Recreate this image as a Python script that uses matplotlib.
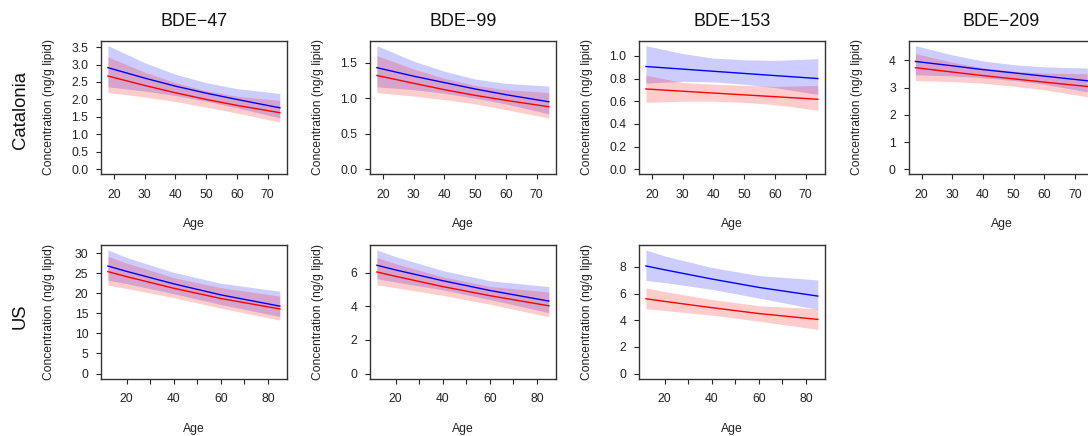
import matplotlib
matplotlib.use("Agg")
import matplotlib.pyplot as plt

plt.rcParams['font.family'] = ['Liberation Sans', 'DejaVu Sans']

# --- data (fitted curve + 95% band, two groups) ---
congeners = ['BDE\u221247', 'BDE\u221299', 'BDE\u2212153', 'BDE\u2212209']
regions = ['Catalonia', 'US']

ages_cat = [18, 30, 40, 50, 60, 74]
ages_us = [12, 20, 40, 60, 85]

# Catalonia: one list per congener
cat_blue = [[2.91, 2.61, 2.38, 2.18, 2.00, 1.76],
            [1.43, 1.31, 1.22, 1.13, 1.05, 0.95],
            [0.906, 0.883, 0.864, 0.845, 0.826, 0.80],
            [3.96, 3.80, 3.66, 3.54, 3.42, 3.25]]
cat_blue_lo = [[2.36, 2.24, 2.11, 1.95, 1.76, 1.47],
               [1.16, 1.12, 1.07, 1.00, 0.92, 0.78],
               [0.76, 0.775, 0.77, 0.75, 0.72, 0.66],
               [3.47, 3.43, 3.36, 3.26, 3.12, 2.84]]
cat_blue_hi = [[3.54, 3.05, 2.72, 2.48, 2.31, 2.17],
               [1.74, 1.52, 1.38, 1.27, 1.21, 1.17],
               [1.09, 1.02, 0.98, 0.965, 0.96, 0.975],
               [4.54, 4.20, 3.98, 3.84, 3.76, 3.72]]
cat_red = [[2.67, 2.40, 2.19, 2.00, 1.83, 1.62],
           [1.32, 1.21, 1.12, 1.04, 0.97, 0.88],
           [0.708, 0.688, 0.672, 0.656, 0.64, 0.617],
           [3.73, 3.57, 3.44, 3.32, 3.20, 3.04]]
cat_red_lo = [[2.20, 2.07, 1.94, 1.78, 1.61, 1.35],
              [1.08, 1.03, 0.98, 0.92, 0.84, 0.72],
              [0.59, 0.60, 0.60, 0.59, 0.57, 0.52],
              [3.26, 3.22, 3.16, 3.05, 2.92, 2.66]]
cat_red_hi = [[3.22, 2.78, 2.48, 2.25, 2.09, 1.97],
              [1.60, 1.41, 1.28, 1.18, 1.12, 1.08],
              [0.83, 0.765, 0.75, 0.74, 0.73, 0.74],
              [4.25, 3.93, 3.73, 3.60, 3.53, 3.51]]

# US: no BDE-209 panel
us_blue = [[26.8, 25.45, 22.35, 19.6, 16.8],
           [6.44, 6.16, 5.52, 4.94, 4.31],
           [8.07, 7.78, 7.09, 6.46, 5.81]]
us_blue_lo = [[23.25, 22.4, 19.9, 17.2, 14.2],
              [5.64, 5.44, 4.98, 4.40, 3.62],
              [6.99, 6.82, 6.32, 5.66, 4.81]]
us_blue_hi = [[30.8, 28.9, 25.2, 22.5, 20.5],
              [7.35, 6.95, 6.12, 5.52, 5.17],
              [9.27, 8.82, 7.95, 7.35, 7.02]]
us_red = [[25.4, 24.15, 21.25, 18.7, 16.1],
          [6.04, 5.78, 5.17, 4.63, 4.03],
          [5.61, 5.41, 4.94, 4.50, 4.06]]
us_red_lo = [[22.0, 21.2, 18.9, 16.3, 13.3],
             [5.28, 5.10, 4.65, 4.12, 3.38],
             [4.86, 4.73, 4.38, 3.93, 3.31]]
us_red_hi = [[29.2, 27.5, 23.9, 21.4, 19.3],
             [6.9, 6.53, 5.75, 5.18, 4.85],
             [6.42, 6.15, 5.55, 5.09, 4.86]]

# tick labels
cat_yticks = [['0.0', '0.5', '1.0', '1.5', '2.0', '2.5', '3.0', '3.5'],
              ['0.0', '0.5', '1.0', '1.5'],
              ['0.0', '0.2', '0.4', '0.6', '0.8', '1.0'],
              ['0', '1', '2', '3', '4']]
us_yticks = [['0', '5', '10', '15', '20', '25', '30'],
             ['0', '2', '4', '6'],
             ['0', '2', '4', '6', '8']]
cat_xticks = [20, 30, 40, 50, 60, 70]
cat_xlabels = ['20', '30', '40', '50', '60', '70']
us_xticks = [20, 30, 40, 50, 60, 70, 80]
us_xlabels = ['20', '', '40', '', '60', '', '80']

# --- layout (pixels, R-style panels) ---
W, H = 1088, 436
col_left = [101, 370, 639, 908.5]
row_top = [40.7, 245]
box_w, box_h = 185.7, 133.5
small = 8.7

fig = plt.figure(figsize=(W / 100, H / 100), dpi=100)


def panel(r, c, ages, bl, blo, bhi, rd, rlo, rhi, yt, xt, xl):
    ax = fig.add_axes([col_left[c] / W, 1 - (row_top[r] + box_h) / H,
                       box_w / W, box_h / H])
    ax.fill_between(ages, blo, bhi, color='blue', alpha=0.2, lw=0)
    ax.fill_between(ages, rlo, rhi, color='red', alpha=0.2, lw=0)
    ax.plot(ages, bl, color='blue', lw=1.0)
    ax.plot(ages, rd, color='red', lw=1.0)

    # R default: 4% padding on both axes, y from 0
    top = max(max(bhi), max(rhi))
    ax.set_ylim(-0.04 * top, 1.04 * top)
    span = ages[-1] - ages[0]
    ax.set_xlim(ages[0] - 0.04 * span, ages[-1] + 0.04 * span)

    ax.set_yticks([float(t) for t in yt])
    ax.set_yticklabels(yt)
    ax.set_xticks(xt)
    ax.set_xticklabels(xl)
    ax.tick_params(axis='both', direction='out', length=3.6, width=0.8,
                   labelsize=small, colors='#222222')
    ax.tick_params(axis='y', pad=5.5)
    ax.tick_params(axis='x', pad=7)
    for s in ax.spines.values():
        s.set_color('#333333')
        s.set_linewidth(1.0)

    ax.text(-51.7 / box_w, 0.5, 'Concentration (ng/g lipid)', rotation=90,
            transform=ax.transAxes, ha='center', va='center',
            fontsize=small, color='#222222')
    ax.text(0.5, -50 / box_h, 'Age', transform=ax.transAxes,
            ha='center', va='center', fontsize=small, color='#222222')
    return ax


for c in range(4):
    ax = panel(0, c, ages_cat, cat_blue[c], cat_blue_lo[c], cat_blue_hi[c],
               cat_red[c], cat_red_lo[c], cat_red_hi[c], cat_yticks[c],
               cat_xticks, cat_xlabels)
    ax.text(0.5, 1 + 19 / box_h, congeners[c], transform=ax.transAxes,
            ha='center', va='center', fontsize=12.9, color='#111111')

for c in range(3):
    panel(1, c, ages_us, us_blue[c], us_blue_lo[c], us_blue_hi[c],
          us_red[c], us_red_lo[c], us_red_hi[c], us_yticks[c],
          us_xticks, us_xlabels)

fig.text(20 / W, 1 - 110 / H, regions[0], rotation=90, ha='center',
         va='center', fontsize=13.3, color='#111111')
fig.text(20 / W, 1 - 316 / H, regions[1], rotation=90, ha='center',
         va='center', fontsize=13.3, color='#111111')

plt.savefig('out.png', dpi=100)
